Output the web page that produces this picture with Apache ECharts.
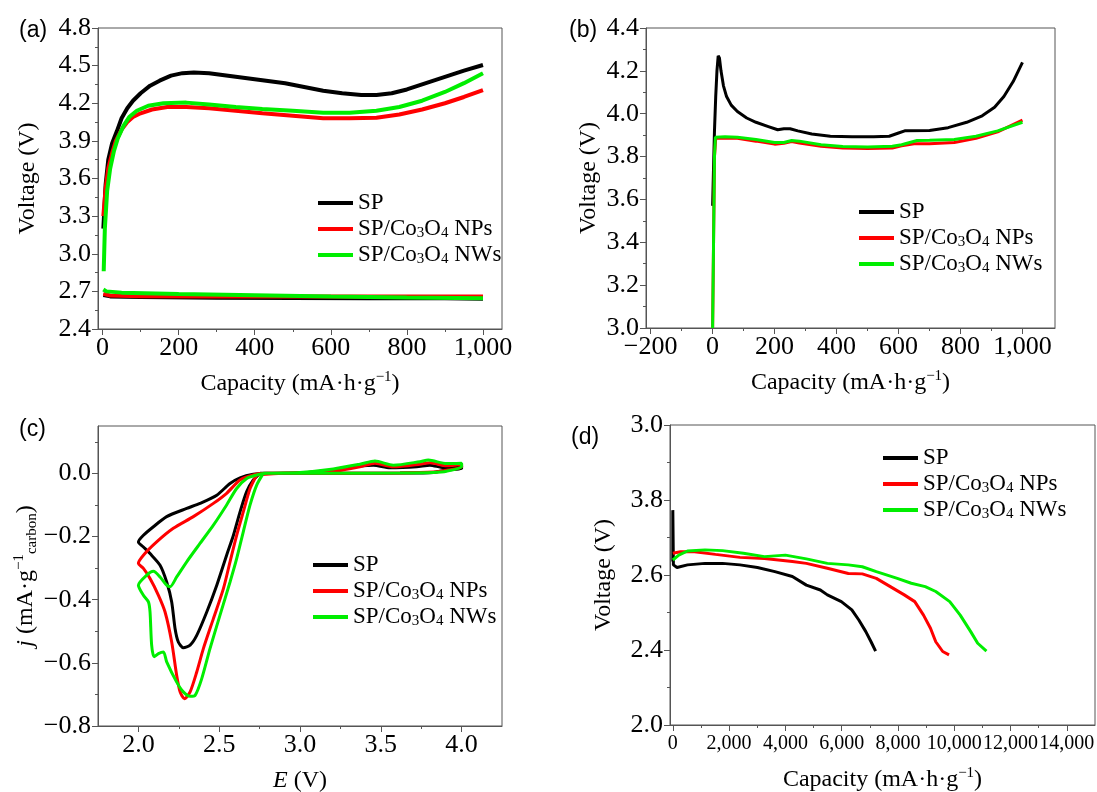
<!DOCTYPE html>
<html>
<head>
<meta charset="utf-8">
<script src="https://cdn.jsdelivr.net/npm/echarts@6/dist/echarts.min.js"></script>
<style>
  html, body { margin: 0; padding: 0; background: #fff; }
  #chart { width: 1097px; height: 792px; }
</style>
</head>
<body>
<div id="chart"></div>
<script>
// series names
const names = ['SP', 'SP/Co3O4 NPs', 'SP/Co3O4 NWs'];
const colors = ['#000000', '#ff0000', '#00ee00'];

// (a) charge / discharge, [capacity, voltage]
const aSPCharge = [[2,3.2],[8,3.55],[15,3.75],[25,3.88],[38,3.98],[50,4.08],[65,4.16],[80,4.22],[100,4.28],[125,4.34],[150,4.38],[180,4.42],[210,4.44],[240,4.445],[280,4.44],[330,4.42],[380,4.40],[430,4.38],[480,4.36],[530,4.33],[580,4.30],[630,4.28],[680,4.265],[720,4.265],[760,4.28],[800,4.31],[850,4.36],[900,4.41],[950,4.46],[1000,4.505]];
const aNPsCharge = [[2,3.3],[8,3.52],[15,3.68],[25,3.8],[35,3.9],[50,3.99],[65,4.05],[80,4.09],[100,4.12],[130,4.15],[170,4.17],[220,4.17],[280,4.16],[350,4.14],[420,4.12],[500,4.10],[580,4.08],[650,4.08],[720,4.085],[780,4.11],[840,4.15],[900,4.20],[950,4.25],[1000,4.305]];
const aNWsCharge = [[3,2.86],[6,3.2],[12,3.5],[20,3.68],[30,3.82],[40,3.92],[55,4.02],[70,4.09],[90,4.14],[120,4.18],[160,4.20],[220,4.205],[280,4.19],[350,4.17],[420,4.155],[500,4.14],[580,4.125],[650,4.125],[720,4.14],[780,4.17],[840,4.22],[900,4.29],[950,4.36],[1000,4.44]];
const aSPDis = [[2,2.67],[20,2.66],[100,2.655],[300,2.65],[500,2.648],[700,2.646],[900,2.645],[1000,2.642]];
const aNPsDis = [[2,2.68],[20,2.667],[100,2.662],[300,2.66],[600,2.66],[1000,2.66]];
const aNWsDis = [[2,2.715],[10,2.70],[50,2.69],[200,2.68],[400,2.67],[600,2.66],[800,2.652],[1000,2.645]];

// (b) first charge
const bSP = [[0,3.57],[3,3.75],[6,3.92],[10,4.08],[14,4.2],[18,4.27],[22,4.26],[27,4.2],[35,4.13],[45,4.08],[60,4.04],[80,4.01],[110,3.98],[140,3.96],[180,3.94],[210,3.925],[230,3.93],[250,3.93],[275,3.92],[320,3.905],[380,3.895],[450,3.892],[520,3.893],[570,3.895],[600,3.91],[620,3.92],[700,3.922],[760,3.935],[820,3.96],[870,3.99],[910,4.03],[940,4.08],[970,4.15],[1000,4.24]];
const bNPs = [[0,3.0],[3,3.4],[6,3.8],[10,3.885],[40,3.887],[80,3.885],[140,3.872],[200,3.858],[230,3.862],[255,3.87],[280,3.863],[350,3.848],[420,3.84],[500,3.838],[580,3.84],[610,3.85],[650,3.86],[700,3.86],[780,3.866],[850,3.885],[920,3.915],[1000,3.97]];
const bNWs = [[0,3.0],[3,3.4],[6,3.8],[9,3.89],[40,3.892],[80,3.89],[140,3.88],[200,3.866],[230,3.866],[255,3.875],[280,3.872],[350,3.855],[420,3.847],[500,3.845],[580,3.848],[610,3.855],[660,3.875],[700,3.876],[780,3.88],[850,3.895],[920,3.92],[1000,3.96]];

// (c) CV loops, [E, j]
const cSP = [[2.753,0],[2.711,-0.021],[2.670,-0.058],[2.629,-0.122],[2.588,-0.196],[2.546,-0.259],[2.485,-0.354],[2.423,-0.439],[2.361,-0.513],[2.320,-0.544],[2.278,-0.552],[2.247,-0.534],[2.227,-0.492],[2.206,-0.407],[2.175,-0.344],[2.134,-0.291],[2.072,-0.254],[2.031,-0.233],[2.0,-0.217],[2.031,-0.196],[2.093,-0.169],[2.175,-0.137],[2.299,-0.111],[2.381,-0.095],[2.485,-0.069],[2.567,-0.032],[2.629,-0.014],[2.711,-0.003],[2.794,0],[3.0,0.002],[3.206,0.011],[3.371,0.023],[3.454,0.026],[3.557,0.018],[3.722,0.021],[3.804,0.026],[3.887,0.018],[4.0,0.024],[4.0,0.016],[3.907,0.011],[3.825,0.003],[3.619,0.001],[3.206,0],[2.897,0],[2.753,0]];
const cNPs = [[2.732,-0.005],[2.691,-0.048],[2.649,-0.122],[2.608,-0.196],[2.567,-0.280],[2.526,-0.365],[2.464,-0.460],[2.402,-0.555],[2.361,-0.629],[2.320,-0.692],[2.285,-0.714],[2.258,-0.692],[2.237,-0.640],[2.206,-0.534],[2.165,-0.439],[2.124,-0.386],[2.072,-0.333],[2.031,-0.301],[2.0,-0.285],[2.031,-0.259],[2.113,-0.217],[2.216,-0.174],[2.340,-0.137],[2.464,-0.095],[2.546,-0.063],[2.629,-0.021],[2.711,-0.005],[2.794,0],[3.0,0.002],[3.206,0.007],[3.371,0.021],[3.464,0.032],[3.577,0.021],[3.742,0.029],[3.804,0.034],[3.907,0.024],[4.0,0.029],[4.0,0.02],[3.907,0.01],[3.825,0.004],[3.619,0.001],[3.206,0],[2.897,0],[2.732,-0.005]];
const cNWs = [[2.773,0],[2.732,-0.037],[2.691,-0.100],[2.649,-0.185],[2.608,-0.270],[2.567,-0.344],[2.505,-0.449],[2.443,-0.555],[2.392,-0.650],[2.351,-0.703],[2.320,-0.706],[2.278,-0.692],[2.237,-0.661],[2.175,-0.597],[2.155,-0.566],[2.124,-0.571],[2.097,-0.581],[2.082,-0.544],[2.072,-0.439],[2.062,-0.407],[2.031,-0.386],[2.0,-0.354],[2.052,-0.322],[2.093,-0.310],[2.134,-0.328],[2.175,-0.354],[2.196,-0.359],[2.237,-0.328],[2.299,-0.280],[2.381,-0.222],[2.464,-0.164],[2.546,-0.100],[2.608,-0.048],[2.670,-0.016],[2.732,-0.005],[2.794,0],[3.0,0.003],[3.206,0.014],[3.371,0.029],[3.464,0.039],[3.577,0.026],[3.742,0.037],[3.794,0.042],[3.907,0.031],[4.0,0.032],[4.0,0.022],[3.907,0.007],[3.825,0.003],[3.619,0.001],[3.206,0],[2.897,0],[2.773,0]];

// (d) full discharge, [capacity, plotted voltage]
const dSP = [[0,2.636],[0,2.773],[20,2.627],[149,2.62],[522,2.627],[1143,2.631],[1764,2.631],[2385,2.627],[3006,2.62],[3627,2.609],[4248,2.596],[4745,2.573],[5242,2.56],[5491,2.547],[5988,2.529],[6360,2.507],[6609,2.48],[6857,2.449],[7043,2.422],[7205,2.397]];
const dNPs = [[0,2.658],[273,2.662],[770,2.662],[1516,2.655],[2385,2.647],[3255,2.644],[4248,2.636],[4745,2.631],[5491,2.618],[6236,2.604],[6733,2.603],[7230,2.591],[7727,2.569],[8224,2.547],[8596,2.529],[8907,2.493],[9155,2.458],[9342,2.422],[9590,2.396],[9814,2.387]];
const dNWs = [[0,2.64],[211,2.653],[522,2.664],[1143,2.667],[1764,2.665],[2509,2.658],[3255,2.649],[4000,2.653],[4745,2.643],[5491,2.631],[6236,2.627],[6733,2.622],[7230,2.609],[7975,2.591],[8472,2.578],[8969,2.569],[9342,2.556],[9839,2.529],[10211,2.493],[10584,2.449],[10832,2.418],[11143,2.397]];

// tick values and labels
const aXTicks = [0,200,400,600,800,1000], aXMinor = [100,300,500,700,900];
const aYTicks = [2.4,2.7,3.0,3.3,3.6,3.9,4.2,4.5,4.8], aYMinor = [2.55,2.85,3.15,3.45,3.75,4.05,4.35,4.65];
const bXTicks = [-200,0,200,400,600,800,1000], bXMinor = [-100,100,300,500,700,900];
const bYTicks = [3.0,3.2,3.4,3.6,3.8,4.0,4.2,4.4], bYMinor = [3.1,3.3,3.5,3.7,3.9,4.1,4.3];
const cXTicks = [2.0,2.5,3.0,3.5,4.0], cXMinor = [2.25,2.75,3.25,3.75];
const cYTicks = [-0.8,-0.6,-0.4,-0.2,0.0], cYMinor = [-0.7,-0.5,-0.3,-0.1,0.1];
const dXTicks = [0,2000,4000,6000,8000,10000,12000,14000], dXMinor = [1000,3000,5000,7000,9000,11000,13000];
const dYTicks = [2.2,2.4,2.6,2.8,3.0], dYMinor = [2.3,2.5,2.7,2.9];
const dYTickLabels = ['2.0','2.4','2.6','3.8','3.0'];

const serif = 'Liberation Serif';
const sans = 'Liberation Sans';
const axisColor = '#555';

function numFmt(dec) {
    return function (v) {
        const s = dec ? Math.abs(v).toFixed(dec) : Math.abs(v).toLocaleString('en-US');
        return (v < 0 ? '\u2212' : '') + s;
    };
}

const nameRich = {
    sup: { fontFamily: serif, fontSize: 15, verticalAlign: 'top', lineHeight: 28 },
    sub: { fontFamily: serif, fontSize: 15, verticalAlign: 'bottom', lineHeight: 28 },
    it: { fontFamily: serif, fontSize: 24, fontStyle: 'italic', lineHeight: 28 }
};

const xAxes = [], yAxes = [];
function addAxes(list, gi, dim, min, max, major, minor, fmt, name, nameGap, labelSize, labelMargin) {
    const isX = dim === 'x';
    list.push({
        type: 'value', gridIndex: gi, min: min, max: max,
        position: isX ? 'bottom' : 'left',
        name: name, nameLocation: 'middle', nameGap: nameGap,
        nameTextStyle: { fontFamily: serif, fontSize: 24, color: '#000', lineHeight: 28, rich: nameRich },
        splitLine: { show: false },
        axisLine: { show: true, onZero: false, lineStyle: { color: axisColor, width: 1 } },
        axisTick: { show: true, customValues: major, length: 6, lineStyle: { color: axisColor } },
        axisLabel: {
            customValues: major, formatter: fmt, color: '#000', fontFamily: serif,
            fontSize: labelSize || 26, margin: labelMargin || (isX ? 6 : 7),
            hideOverlap: false, interval: 0,
            showMinLabel: true, showMaxLabel: true
        }
    });
    list.push({
        type: 'value', gridIndex: gi, min: min, max: max,
        position: isX ? 'bottom' : 'left',
        splitLine: { show: false },
        axisLine: { show: false, onZero: false },
        axisLabel: { show: false },
        axisTick: { show: true, customValues: minor, length: 3, lineStyle: { color: axisColor } }
    });
}

const capName = 'Capacity (mA\u00b7h\u00b7g{sup|\u22121})';
addAxes(xAxes, 0, 'x', -12, 1050, aXTicks, aXMinor, numFmt(0), capName, 41);
addAxes(yAxes, 0, 'y', 2.4, 4.8, aYTicks, aYMinor, numFmt(1), 'Voltage (V)', 56);
addAxes(xAxes, 1, 'x', -215, 1105, bXTicks, bXMinor, numFmt(0), capName, 41);
addAxes(yAxes, 1, 'y', 3.0, 4.4, bYTicks, bYMinor, numFmt(1), 'Voltage (V)', 43);
addAxes(xAxes, 2, 'x', 1.75, 4.25, cXTicks, cXMinor, numFmt(1), '{it|E} (V)', 41);
addAxes(yAxes, 2, 'y', -0.8, 0.15, cYTicks, cYMinor, numFmt(1), '{it|j} (mA\u00b7g{sup|\u22121}{sub|carbon})', 56);
addAxes(xAxes, 3, 'x', -100, 15000, dXTicks, dXMinor, numFmt(0), capName, 41, 20, 9);
addAxes(yAxes, 3, 'y', 2.2, 3.0, dYTicks, dYMinor, function (v) {
    const i = dYTicks.findIndex(t => Math.abs(t - v) < 1e-6);
    return i >= 0 ? dYTickLabels[i] : '';
}, 'Voltage (V)', 52);

const series = [];
function addLine(gi, k, data, width) {
    series.push({
        name: names[k], type: 'line', xAxisIndex: gi * 2, yAxisIndex: gi * 2,
        data: data, symbol: 'none', smooth: gi === 2 ? 0.25 : false,
        lineStyle: { color: colors[k], width: width }, itemStyle: { color: colors[k] },
        z: 2 + k
    });
}
[[aSPCharge, aSPDis], [aNPsCharge, aNPsDis], [aNWsCharge, aNWsDis]].forEach((pair, k) => {
    addLine(0, k, pair[0], 4);
    addLine(0, k, pair[1], 4);
});
[bSP, bNPs, bNWs].forEach((d, k) => addLine(1, k, d, 3));
[cSP, cNPs, cNWs].forEach((d, k) => addLine(2, k, d, 3));
[dSP, dNPs, dNWs].forEach((d, k) => addLine(3, k, d, 3));

function legendAt(left, top) {
    return {
        orient: 'vertical', left: left, top: top, data: names,
        icon: 'rect', itemWidth: 35, itemHeight: 4, itemGap: 2,
        selectedMode: false,
        formatter: n => n.replace('Co3O4', 'Co{sub|3}O{sub|4}'),
        textStyle: {
            fontFamily: serif, fontSize: 23, color: '#000', lineHeight: 24,
            rich: { sub: { fontFamily: serif, fontSize: 15, verticalAlign: 'bottom', lineHeight: 24 } }
        }
    };
}

function panelTitle(text, left, top) {
    return { text: text, left: left, top: top, textStyle: { fontFamily: sans, fontSize: 23, fontWeight: 'normal', color: '#000' } };
}

const gridBox = { show: true, borderColor: axisColor, borderWidth: 1, backgroundColor: 'transparent', outerBoundsMode: 'none' };

const chart = echarts.init(document.getElementById('chart'));
chart.setOption({
    animation: false,
    backgroundColor: '#fff',
    title: [panelTitle('(a)', 14, 14), panelTitle('(b)', 564, 14), panelTitle('(c)', 14, 413), panelTitle('(d)', 566, 421)],
    grid: [
        Object.assign({ left: 98, top: 28, width: 404, height: 301 }, gridBox),
        Object.assign({ left: 646, top: 28, width: 409, height: 300 }, gridBox),
        Object.assign({ left: 98, top: 426, width: 404, height: 300 }, gridBox),
        Object.assign({ left: 670, top: 425, width: 425, height: 300 }, gridBox)
    ],
    legend: [legendAt(313, 186), legendAt(854, 195), legendAt(308, 548), legendAt(878, 441)],
    xAxis: xAxes,
    yAxis: yAxes,
    series: series
});
</script>
</body>
</html>
